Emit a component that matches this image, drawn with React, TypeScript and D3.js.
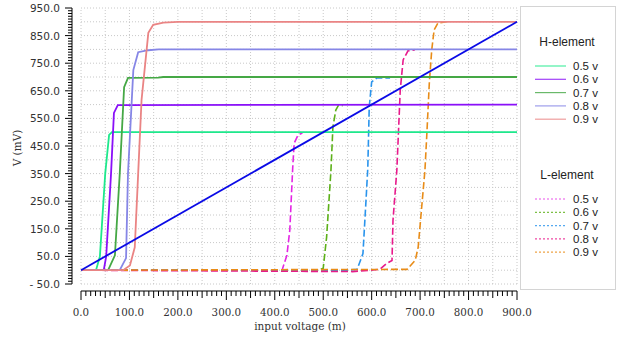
import React, { useEffect, useRef } from 'react';
import * as d3 from 'd3';

type Pt = [number, number];

const levels = ['0.5 v', '0.6 v', '0.7 v', '0.8 v', '0.9 v'];

// H-element (solid) curves
const h05: Pt[] = [[0, 0], [31, 0], [39, 50], [50, 350], [58, 490], [64, 500], [900, 500]];
const h06: Pt[] = [[0, 0], [47, 0], [52, 50], [62, 350], [68, 570], [76, 598], [900, 600]];
const h07: Pt[] = [[0, 0], [56, 0], [70, 54], [80, 350], [89, 663], [97, 697], [159, 698], [170, 700], [900, 700]];
const h08: Pt[] = [[0, 0], [80, 0], [93, 44], [97, 350], [108, 725], [118, 790], [139, 797], [160, 800], [900, 800]];
const h09: Pt[] = [[0, 0], [87, 0], [101, 17], [111, 83], [118, 350], [125, 617], [139, 860], [149, 889], [170, 897], [200, 900], [900, 900]];
const hSeries = [h05, h06, h07, h08, h09];
const hColors = ['#1ee88c', '#8a10f8', '#45a845', '#8686e6', '#ea8484'];

// L-element (dashed) curves
const l05: Pt[] = [[0, 0], [415, 0], [425, 54], [431, 145], [437, 370], [440, 460], [448, 490], [457, 497]];
const l06: Pt[] = [[0, 0], [490, 0], [500, 7], [507, 120], [516, 363], [520, 519], [526, 580], [531, 596], [540, 596]];
const l07: Pt[] = [[0, 0], [549, 0], [570, 3], [582, 60], [588, 243], [592, 370], [595, 592], [600, 682], [611, 697], [638, 697]];
const l08: Pt[] = [[0, 0], [560, -5], [617, 3], [631, 25], [642, 35], [644, 180], [652, 363], [659, 653], [665, 762], [675, 795], [689, 798]];
const l09: Pt[] = [[0, 0], [673, 3], [690, 36], [696, 83], [704, 243], [710, 363], [714, 497], [719, 678], [724, 798], [729, 871], [737, 896], [755, 900]];
const lSeries = [l05, l06, l07, l08, l09];
const lColors = ['#e426e4', '#5cb018', '#2a94ec', '#e81a8c', '#e88c18'];

const diag: Pt[] = [[0, 0], [900, 900]];

const xTicks = [0, 100, 200, 300, 400, 500, 600, 700, 800, 900];
const yTicks = [-50, 50, 150, 250, 350, 450, 550, 650, 750, 850, 950];

const W = 624;
const H = 342;

const App = () => {
  const ref = useRef<SVGSVGElement>(null);

  useEffect(() => {
    const svg = d3.select(ref.current);
    svg.selectAll('*').remove();

    const x = d3.scaleLinear().domain([0, 900]).range([81, 517]);
    const y = d3.scaleLinear().domain([-50, 950]).range([284, 8]);

    const grid = svg.append('g');
    d3.range(0, 901, 50).forEach(v => {
      grid.append('line')
        .attr('x1', x(v)).attr('x2', x(v)).attr('y1', y(-50)).attr('y2', y(950))
        .attr('stroke', '#c8c8c8').attr('stroke-dasharray', '1,2');
    });
    d3.range(-50, 951, 50).forEach(v => {
      grid.append('line')
        .attr('x1', x(0)).attr('x2', x(900)).attr('y1', y(v)).attr('y2', y(v))
        .attr('stroke', '#c8c8c8').attr('stroke-dasharray', '1,2');
    });

    // x axis (offset below plot)
    const xa = svg.append('g').attr('transform', 'translate(0,291)');
    xa.append('line').attr('x1', x(0)).attr('x2', x(900)).attr('stroke', '#000');
    d3.range(0, 901, 10).forEach(v => {
      const len = v % 100 === 0 ? 9 : v % 50 === 0 ? 7 : 5;
      xa.append('line').attr('x1', x(v)).attr('x2', x(v)).attr('y1', 0).attr('y2', len)
        .attr('stroke', '#000');
    });
    xa.selectAll('text.t').data(xTicks).enter().append('text')
      .attr('x', d => x(d)).attr('y', 25).attr('text-anchor', 'middle')
      .attr('font-family', 'DejaVu Serif').attr('font-size', 10.3).attr('fill', '#333')
      .text(d => d3.format('.1f')(d));
    svg.append('text').attr('x', 300).attr('y', 330).attr('text-anchor', 'middle')
      .attr('font-family', 'DejaVu Serif').attr('font-size', 10.5).attr('fill', '#333')
      .text('input voltage (m)');

    // y axis (offset left of plot)
    const ya = svg.append('g').attr('transform', 'translate(72,0)');
    ya.append('line').attr('y1', y(-50)).attr('y2', y(950)).attr('stroke', '#000');
    d3.range(-50, 951, 10).forEach(v => {
      const len = (v + 50) % 100 === 0 ? 7 : 4;
      ya.append('line').attr('y1', y(v)).attr('y2', y(v)).attr('x1', 0).attr('x2', -len)
        .attr('stroke', '#000');
    });
    ya.selectAll('text.t').data(yTicks).enter().append('text')
      .attr('x', -12).attr('y', d => y(d) + 4).attr('text-anchor', 'end')
      .attr('font-family', 'DejaVu Sans').attr('font-size', 10.5).attr('fill', '#333')
      .text(d => (d < 0 ? '- ' + d3.format('.1f')(-d) : d3.format('.1f')(d)));
    svg.append('text').attr('transform', 'translate(21,148) rotate(-90)').attr('text-anchor', 'middle')
      .attr('font-family', 'DejaVu Serif').attr('font-size', 10.5).attr('fill', '#333')
      .text('V (mV)');

    const line = d3.line<Pt>().x(d => x(d[0])).y(d => y(d[1]));

    lSeries.forEach((s, i) => {
      svg.append('path').attr('d', line(s)).attr('fill', 'none')
        .attr('stroke', lColors[i]).attr('stroke-width', 1.6).attr('stroke-dasharray', '7,3');
    });
    hSeries.forEach((s, i) => {
      svg.append('path').attr('d', line(s)).attr('fill', 'none')
        .attr('stroke', hColors[i]).attr('stroke-width', 1.8);
    });
    svg.append('path').attr('d', line(diag)).attr('fill', 'none')
      .attr('stroke', '#0a0ae6').attr('stroke-width', 1.8);

    // legend
    const lg = svg.append('g');
    lg.append('rect').attr('x', 520.5).attr('y', 6.5).attr('width', 95).attr('height', 283)
      .attr('fill', '#fff').attr('stroke', '#d4d4d4');
    const leg = (title: string, ty: number, colors: string[], dash: string | null) => {
      lg.append('text').attr('x', 567).attr('y', ty).attr('text-anchor', 'middle')
        .attr('font-family', 'Liberation Sans').attr('font-size', 12).attr('fill', '#222').text(title);
      levels.forEach((lab, i) => {
        const yy = ty + 20 + i * 13.3;
        lg.append('line').attr('x1', 535).attr('x2', 566).attr('y1', yy).attr('y2', yy)
          .attr('stroke', colors[i]).attr('stroke-width', 1.2).attr('stroke-opacity', 0.8)
          .attr('stroke-dasharray', dash);
        lg.append('text').attr('x', 573).attr('y', yy + 4).attr('font-family', 'Liberation Sans')
          .attr('font-size', 11.5).attr('fill', '#222').text(lab);
      });
    };
    leg('H-element', 46, hColors, null);
    leg('L-element', 179, lColors, '2,2');
  }, []);

  return (
    <svg ref={ref} width={W} height={H}
      style={{ position: 'absolute', left: 0, top: 0, background: '#fff' }} />
  );
};

export default App;
